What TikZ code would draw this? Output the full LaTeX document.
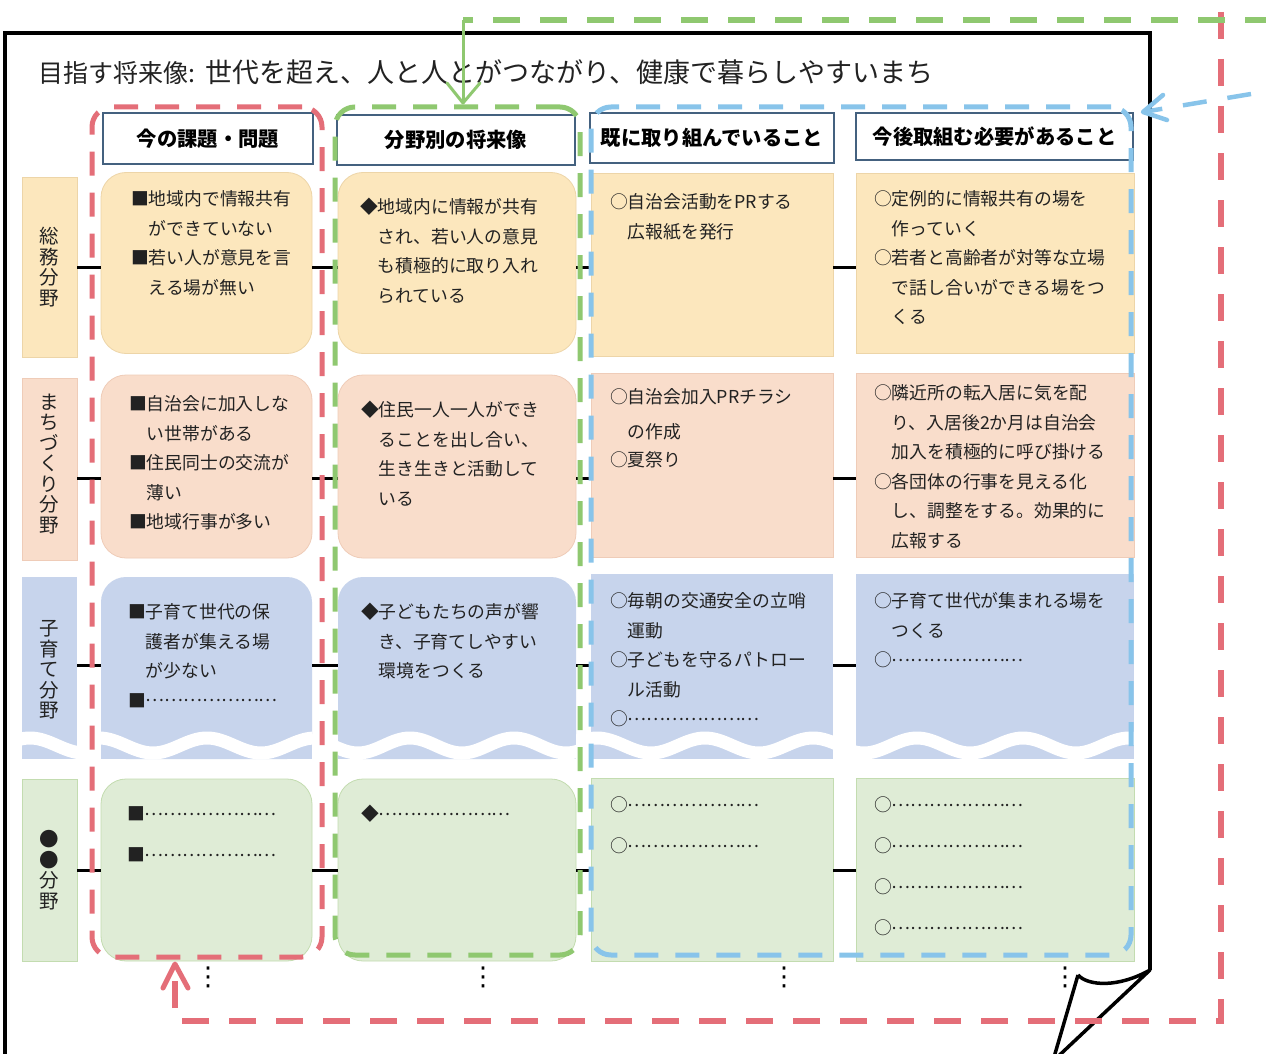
\documentclass[tikz,border=0pt]{standalone}
\usepackage{fontspec}
\setmainfont{Noto Sans CJK JP}
\newfontfamily\dvfont{DejaVu Sans}
\definecolor{redc}{HTML}{E46E78}
\definecolor{greenc}{HTML}{8FC870}
\definecolor{bluec}{HTML}{88C4EA}
\definecolor{hdrc}{HTML}{44617F}
\definecolor{txtc}{HTML}{222222}
\definecolor{fa}{HTML}{FCE7BD}\definecolor{fab}{HTML}{EDD5A8}
\definecolor{fb}{HTML}{F9DDCB}\definecolor{fbb}{HTML}{EFCCB8}
\definecolor{fc}{HTML}{C7D4EC}\definecolor{fcb}{HTML}{B9C8E4}
\definecolor{fd}{HTML}{DFECD6}\definecolor{fdb}{HTML}{C3DCB0}
\newcommand\tstrut{\rule{0pt}{17pt}}
\newcommand\ldot{…}
\newcommand\leadline{\raisebox{5.5pt}{\ldot\ldot\ldot\ldot\ldot\ldot\ldot}}
\begin{document}
\begin{tikzpicture}[x=1pt,y=-1pt,
 every node/.style={inner sep=0pt,outer sep=0pt},
 hdr/.style={draw=hdrc,line width=1.5pt,fill=white,font=\bfseries\fontsize{20.3}{24}\selectfont,text=black},
 cell/.style={rectangle,line width=0.8pt},
 rcell/.style={rectangle,rounded corners=25pt,line width=0.8pt},
 lbltxt/.style={align=center,font=\fontsize{19.5}{20.5}\selectfont,text=txtc},
 txt/.style={anchor=north west,align=left,font=\fontsize{17.8}{29.5}\selectfont,text=txtc},
 conn/.style={line width=3pt,black},
 grp/.style={rectangle,rounded corners=20pt,line width=5pt,dash pattern=on 24pt off 17pt},
 wave/.style={white,line width=13pt},
 bigloop/.style={line width=5.5pt,dash pattern=on 27pt off 20pt},
 chev/.style={line width=5pt,line cap=round,line join=round},
 vdots/.style={font=\dvfont\fontsize{26}{26}\selectfont,text=black}]
\useasboundingbox (0,0) rectangle (1266,1054);
\fill[white] (0,0) rectangle (1266,1054);

% page frame with curl
\draw[line width=4pt,black] (5,1080) -- (5,33) -- (1150,33) -- (1150,970);
\draw[line width=3.5pt,black,line join=round] (1078,975) .. controls (1088,986) and (1118,988) .. (1150,970) -- (1050,1064);
\draw[line width=3.5pt,black] (1078,975) -- (1052,1064);

% title
\node[anchor=base west,font=\fontsize{27}{30}\selectfont,text=txtc] (title) at (38,83)
 {{\fontsize{25}{30}\selectfont 目指す将来像:}\hspace{11pt}世代を超え、人と人とがつながり、健康で暮らしやすいまち};

% headers
\node[hdr,minimum width=210,minimum height=51] (h1) at (208,138.5) {今の課題・問題};
\node[hdr,minimum width=238,minimum height=50] (h2) at (456,140) {分野別の将来像};
\node[hdr,minimum width=244,minimum height=50] (h3) at (712,138) {既に取り組んでいること};
\node[hdr,minimum width=277,minimum height=47] (h4) at (994.5,136.5) {今後取組む必要があること};

% row 1
\node[cell,fill=fa,draw=fab,minimum width=55,minimum height=180] (l1) at (49.5,267) {};
\node[rcell,fill=fa,draw=fab,minimum width=211,minimum height=181] (c11) at (206.5,263) {};
\node[rcell,fill=fa,draw=fab,minimum width=238,minimum height=181] (c12) at (457,263) {};
\node[cell,fill=fa,draw=fab,minimum width=242,minimum height=183] (c13) at (712,264.5) {};
\node[cell,fill=fa,draw=fab,minimum width=278,minimum height=180] (c14) at (995,263) {};
% row 2
\node[cell,fill=fb,draw=fbb,minimum width=55,minimum height=182] (l2) at (49.5,469) {};
\node[rcell,fill=fb,draw=fbb,minimum width=211,minimum height=183] (c21) at (206.5,466.5) {};
\node[rcell,fill=fb,draw=fbb,minimum width=238,minimum height=183] (c22) at (457,466.5) {};
\node[cell,fill=fb,draw=fbb,minimum width=242,minimum height=184] (c23) at (712,465) {};
\node[cell,fill=fb,draw=fbb,minimum width=278,minimum height=184] (c24) at (995,465) {};
% row 3
\node[cell,fill=fc,minimum width=55,minimum height=182] (l3) at (49.5,668) {};
\node[rcell,fill=fc,minimum width=211,minimum height=182] (c31) at (206.5,668) {};
\node[rcell,fill=fc,minimum width=238,minimum height=182] (c32) at (457,668) {};
\node[cell,fill=fc,minimum width=242,minimum height=185] (c33) at (712,666.5) {};
\node[cell,fill=fc,minimum width=278,minimum height=185] (c34) at (995,666.5) {};
\fill[fc] (c31.west) rectangle (c31.south east);
\fill[fc] (c32.west) rectangle (c32.south east);
% waves
\begin{scope}\clip (l3.north west) rectangle (l3.south east);
\draw[wave] plot[domain=20:80,samples=30] (\x,{745.5-7.5*cos(((\x-30)/108)*360)});\end{scope}
\begin{scope}\clip (c31.north west) rectangle (c31.south east);
\draw[wave] plot[domain=98:315,samples=80] (\x,{745.5-7.5*cos(((\x-207)/108)*360)});\end{scope}
\begin{scope}\clip (c32.north west) rectangle (c32.south east);
\draw[wave] plot[domain=335:579,samples=80] (\x,{745.5-7.5*cos(((\x-410)/104)*360)});\end{scope}
\begin{scope}\clip (c33.north west) rectangle (c33.south east);
\draw[wave] plot[domain=588:836,samples=80] (\x,{745.5-7.5*cos(((\x-705)/108)*360)});\end{scope}
\begin{scope}\clip (c34.north west) rectangle (c34.south east);
\draw[wave] plot[domain=853:1137,samples=90] (\x,{745.5-7.5*cos(((\x-917)/106)*360)});\end{scope}
% row 4
\node[cell,fill=fd,draw=fdb,minimum width=55,minimum height=182] (l4) at (49.5,870) {};
\node[rcell,fill=fd,draw=fdb,minimum width=211,minimum height=182] (c41) at (206.5,870) {};
\node[rcell,fill=fd,draw=fdb,minimum width=238,minimum height=182] (c42) at (457,870) {};
\node[cell,fill=fd,draw=fdb,minimum width=242,minimum height=183] (c43) at (712,869.5) {};
\node[cell,fill=fd,draw=fdb,minimum width=278,minimum height=183] (c44) at (995,869.5) {};

% row labels
\node[lbltxt] (lt1) at (l1) {総\\務\\分\\野};
\node[lbltxt] (lt2) at ([yshift=5pt]l2.center) {ま\\ち\\づ\\く\\り\\分\\野};
\node[lbltxt] (lt3) at ([yshift=-2pt]l3.center) {子\\育\\て\\分\\野};
\node[lbltxt] (lt4) at (l4) {●\\●\\分\\野};

% cell texts
\node[txt] (t11) at (131,188.8) {\tstrut■地域内で情報共有\\\hspace*{1em}ができていない\\■若い人が意見を言\\\hspace*{1em}える場が無い};
\node[txt] (t12) at (360,196.8) {\tstrut◆地域内に情報が共有\\\hspace*{1em}され、若い人の意見\\\hspace*{1em}も積極的に取り入れ\\\hspace*{1em}られている};
\node[txt] (t13) at (610,191.8) {\tstrut○自治会活動をPRする\\\hspace*{1em}広報紙を発行};
\node[txt] (t14) at (874,188.8) {\tstrut○定例的に情報共有の場を\\\hspace*{1em}作っていく\\○若者と高齢者が対等な立場\\\hspace*{1em}で話し合いができる場をつ\\\hspace*{1em}くる};

\node[txt] (t21) at (129,393.8) {\tstrut■自治会に加入しな\\\hspace*{1em}い世帯がある\\■住民同士の交流が\\\hspace*{1em}薄い\\■地域行事が多い};
\node[txt] (t22) at (361,399.8) {\tstrut◆住民一人一人ができ\\\hspace*{1em}ることを出し合い、\\\hspace*{1em}生き生きと活動して\\\hspace*{1em}いる};
\node[txt] (t23) at (610,386.8) {\tstrut○自治会加入PRチラシ\\[5pt]\hspace*{1em}の作成\\[-1.5pt]○夏祭り};
\node[txt] (t24) at (874,382.8) {\tstrut○隣近所の転入居に気を配\\\hspace*{1em}り、入居後2か月は自治会\\\hspace*{1em}加入を積極的に呼び掛ける\\○各団体の行事を見える化\\\hspace*{1em}し、調整をする。効果的に\\\hspace*{1em}広報する};

\node[txt] (t31) at (128,601.8) {\tstrut■子育て世代の保\\\hspace*{1em}護者が集える場\\\hspace*{1em}が少ない\\■\leadline};
\node[txt] (t32) at (361,601.8) {\tstrut◆子どもたちの声が響\\\hspace*{1em}き、子育てしやすい\\\hspace*{1em}環境をつくる};
\node[txt] (t33) at (610,590.8) {\tstrut○毎朝の交通安全の立哨\\\hspace*{1em}運動\\○子どもを守るパトロー\\\hspace*{1em}ル活動\\○\leadline};
\node[txt] (t34) at (874,590.8) {\tstrut○子育て世代が集まれる場を\\\hspace*{1em}つくる\\○\leadline};

\node[txt] (t41) at (127,803.8) {\tstrut■\leadline\\[11.5pt]■\leadline};
\node[txt] (t42) at (361,803.8) {\tstrut◆\leadline};
\node[txt] (t43) at (610,794.8) {\tstrut○\leadline\\[11.5pt]○\leadline};
\node[txt] (t44) at (874,794.8) {\tstrut○\leadline\\[11.5pt]○\leadline\\[11.5pt]○\leadline\\[11.5pt]○\leadline};

% connectors
\coordinate (r1) at (l1.east);
\coordinate (r2) at ([yshift=-9pt]l2.east);
\coordinate (r3) at ([yshift=3pt]l3.east);
\coordinate (r4) at (l4.east);
\foreach \r/\a/\b/\c/\d in {r1/c11/c12/c13/c14,r2/c21/c22/c23/c24,r3/c31/c32/c33/c34,r4/c41/c42/c43/c44}{
 \draw[conn] (\r) -- (\r -| \a.west);
 \draw[conn] (\r -| \a.east) -- (\r -| \b.west);
 \draw[conn] (\r -| \b.east) -- (\r -| \c.west);
 \draw[conn] (\r -| \c.east) -- (\r -| \d.west);
}

% group outlines
\node[grp,draw=redc,minimum width=230,minimum height=850] (gred) at (207,532) {};
\node[grp,draw=greenc,minimum width=245,minimum height=848] (ggreen) at (457.5,531) {};
\node[grp,draw=bluec,minimum width=540,minimum height=848] (gblue) at (861,531) {};

% red loop arrow
\coordinate (rs) at (1221,12);
\coordinate (rc) at (175,1021);
\coordinate (rt) at (175,964);
\draw[bigloop,redc] (rs) |- (rc) -- (rt);
\draw[chev,redc] (rt) ++(-12,24) -- (rt) -- ++(13,24);

% green arrow
\coordinate (gs) at (1272,20);
\coordinate (gc) at (463,20);
\coordinate (gt) at (463,103);
\draw[bigloop,greenc] (gs) -- (gc);
\draw[greenc,line width=3pt] (gc) -- (gt);
\draw[chev,greenc,line width=3pt] (gt) ++(-16,-20) -- (gt) -- ++(17,-20);

% blue arrow
\coordinate (bs) at (1251,94);
\coordinate (bt) at (1143,112);
\draw[bluec,line width=4.5pt,dash pattern=on 24pt off 21pt] (bs) -- (bt);
\draw[chev,bluec,line width=4.5pt] (bt) ++(20,-17) -- (bt) -- ++(24,8);

% continuation dots
\node[vdots] (d1) at (208,977) {⋮};
\node[vdots] (d2) at (483,977) {⋮};
\node[vdots] (d3) at (784,977) {⋮};
\node[vdots] (d4) at (1065,977) {⋮};
\end{tikzpicture}
\end{document}
